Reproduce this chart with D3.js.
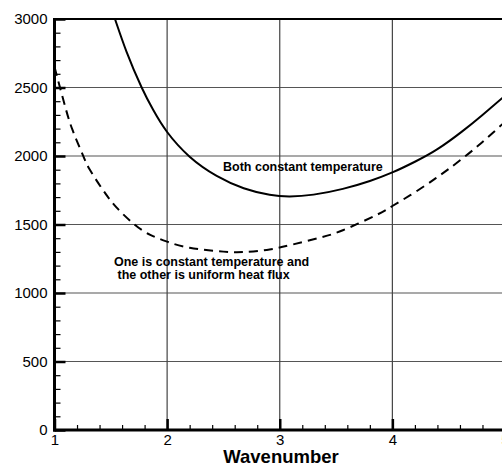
<!DOCTYPE html>
<html>
<head>
<meta charset="utf-8">
<script src="https://cdn.jsdelivr.net/npm/d3@7"></script>
<style>
  body { margin: 0; background: #fff; }
  svg { display: block; font-family: "Liberation Sans", Arial, sans-serif; }
  .axis path { display: none; }
</style>
</head>
<body>
<svg id="chart"></svg>
<script>
// wavenumber / value pairs
const bothWave = [1.5, 1.537, 1.64, 1.774, 1.877, 2.0, 2.2, 2.44, 2.68, 2.91, 3.09, 3.3, 3.56, 3.8, 4.0, 4.2, 4.4, 4.62, 4.8, 5.0];
const bothVal  = [3080, 3000, 2760, 2500, 2335, 2175, 1995, 1855, 1765, 1717, 1705, 1718, 1760, 1818, 1880, 1958, 2050, 2180, 2300, 2440];

const mixedWave = [1.0, 1.05, 1.1, 1.16, 1.25, 1.31, 1.43, 1.55, 1.71, 1.85, 2.0, 2.2, 2.5, 2.7, 2.91, 3.12, 3.36, 3.56, 3.86, 4.0, 4.2, 4.38, 4.5, 4.65, 4.79, 4.92, 5.0];
const mixedVal  = [2650, 2496, 2345, 2190, 2010, 1905, 1752, 1625, 1500, 1425, 1375, 1330, 1302, 1300, 1318, 1355, 1405, 1458, 1570, 1635, 1735, 1835, 1905, 2000, 2095, 2190, 2250];

const xMajor = [1, 2, 3, 4, 5];
const yMajor = [0, 500, 1000, 1500, 2000, 2500, 3000];

const labelBoth = ["Both constant temperature"];
const labelMixed = ["One is constant temperature and", " the other is uniform heat flux"];

const W = 502, H = 466;
const svg = d3.select('#chart').attr('width', W).attr('height', H);

const x = d3.scaleLinear().domain([1, 5]).range([54.5, 505]);
const y = d3.scaleLinear().domain([0, 3000]).range([430, 19]);

const xMinor = d3.range(1, 5.001, 0.2).filter(v => Math.abs(v - Math.round(v)) > 1e-6);
const yMinor = d3.range(0, 3001, 100).filter(v => v % 500 !== 0);

// grid lines
svg.append('g').selectAll('line')
  .data(yMajor.slice(1, -1))
  .join('line')
    .attr('x1', x(1)).attr('x2', x(5))
    .attr('y1', d => y(d)).attr('y2', d => y(d))
    .attr('stroke', '#555').attr('stroke-width', 1.2);

svg.append('g').selectAll('line')
  .data(xMajor.slice(1, -1))
  .join('line')
    .attr('x1', d => x(d)).attr('x2', d => x(d))
    .attr('y1', y(0)).attr('y2', y(3000))
    .attr('stroke', '#444').attr('stroke-width', 1.2);

// inward ticks
const leftMinor = svg.append('g').attr('class', 'axis')
  .attr('transform', `translate(${x(1)},0)`)
  .call(d3.axisLeft(y).tickValues(yMinor).tickSize(-6).tickFormat(''));
leftMinor.selectAll('line').attr('stroke', '#000').attr('stroke-width', 1.2);

const leftMajor = svg.append('g').attr('class', 'axis')
  .attr('transform', `translate(${x(1)},0)`)
  .call(d3.axisLeft(y).tickValues(yMajor).tickSize(-11).tickFormat(d3.format('d')));
leftMajor.selectAll('line').attr('stroke', '#000').attr('stroke-width', 2.5);
leftMajor.selectAll('text')
  .attr('x', -7).attr('font-size', 15).attr('fill', '#000')
  .style('font-family', '"Liberation Sans", Arial, sans-serif');

const bottomMinor = svg.append('g').attr('class', 'axis')
  .attr('transform', `translate(0,${y(0)})`)
  .call(d3.axisBottom(x).tickValues(xMinor).tickSize(-5).tickFormat(''));
bottomMinor.selectAll('line').attr('stroke', '#000').attr('stroke-width', 1.2);

const bottomMajor = svg.append('g').attr('class', 'axis')
  .attr('transform', `translate(0,${y(0)})`)
  .call(d3.axisBottom(x).tickValues(xMajor).tickSize(-11).tickFormat(d3.format('d')));
bottomMajor.selectAll('line').attr('stroke', '#000').attr('stroke-width', 2.5);
bottomMajor.selectAll('text')
  .attr('y', 4).attr('font-size', 15).attr('fill', '#000')
  .style('font-family', '"Liberation Sans", Arial, sans-serif');

// frame
svg.append('line')
  .attr('x1', x(1)).attr('x2', x(5)).attr('y1', y(3000)).attr('y2', y(3000))
  .attr('stroke', '#000').attr('stroke-width', 2.2);
svg.append('line')
  .attr('x1', x(1)).attr('x2', x(1)).attr('y1', y(3000) - 1).attr('y2', y(0) + 1.5)
  .attr('stroke', '#000').attr('stroke-width', 3);
svg.append('line')
  .attr('x1', x(1) - 1.5).attr('x2', x(5)).attr('y1', y(0)).attr('y2', y(0))
  .attr('stroke', '#000').attr('stroke-width', 3);

// curves
svg.append('clipPath').attr('id', 'plot')
  .append('rect')
    .attr('x', x(1)).attr('y', y(3000))
    .attr('width', x(5) - x(1)).attr('height', y(0) - y(3000));

const line = d3.line()
  .x(d => x(d[0]))
  .y(d => y(d[1]))
  .curve(d3.curveNatural);

svg.append('path')
  .attr('d', line(d3.zip(bothWave, bothVal)))
  .attr('clip-path', 'url(#plot)')
  .attr('fill', 'none').attr('stroke', '#000').attr('stroke-width', 2);

svg.append('path')
  .attr('d', line(d3.zip(mixedWave, mixedVal)))
  .attr('clip-path', 'url(#plot)')
  .attr('fill', 'none').attr('stroke', '#000').attr('stroke-width', 2)
  .attr('stroke-dasharray', '9,6');

// annotations
svg.append('text')
  .attr('x', 223).attr('y', 170.5)
  .attr('font-size', 12.5).attr('font-weight', 'bold')
  .text(labelBoth[0]);

svg.append('text')
  .attr('font-size', 12.5).attr('font-weight', 'bold')
  .selectAll('tspan')
  .data(labelMixed)
  .join('tspan')
    .attr('x', 114)
    .attr('y', (d, i) => 266.3 + i * 12.4)
    .attr('xml:space', 'preserve')
    .style('white-space', 'pre')
    .text(d => d);

// axis title
svg.append('text')
  .attr('x', 281).attr('y', 463)
  .attr('text-anchor', 'middle')
  .attr('font-size', 18.5).attr('font-weight', 'bold')
  .text('Wavenumber');
</script>
</body>
</html>
